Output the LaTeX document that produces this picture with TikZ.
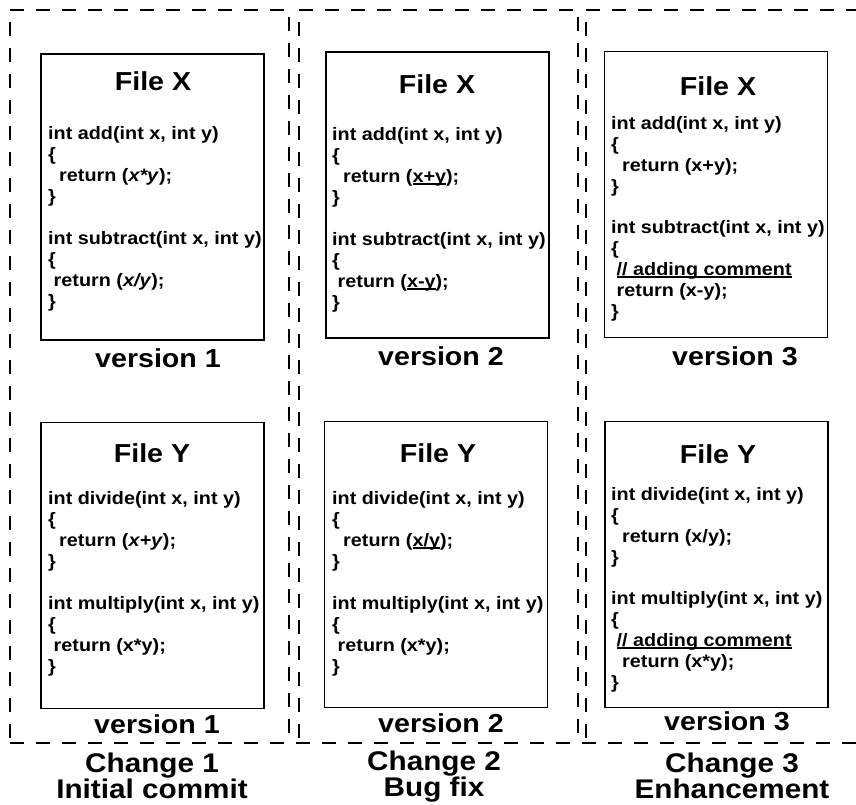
\documentclass[tikz,border=0pt]{standalone}
\usepackage{fontspec}
\setmainfont[FakeStretch=1.1]{Liberation Sans}
\newcommand\indt{\hspace*{5.5pt}}
\newcommand\chg[1]{\setbox0\hbox{#1}\rlap{\rule[-2.6pt]{\wd0}{1.7pt}}\box0}
\begin{document}
\begin{tikzpicture}[x=1pt,y=-1pt,
  frame/.style={draw,line width=1.4pt,dash pattern=on 14pt off 12pt},
  filebox/.style={draw,line width=1.3pt,minimum width=223pt,minimum height=286pt,inner sep=0pt},
  filename/.style={anchor=base,inner sep=0pt,font=\fontsize{26}{30}\selectfont\bfseries},
  code/.style={anchor=base west,align=left,inner sep=0pt,font=\fontsize{18}{21}\selectfont\bfseries},
  version/.style={anchor=base,inner sep=0pt,font=\fontsize{26}{30}\selectfont\bfseries},
  change/.style={anchor=base,align=center,inner sep=0pt,font=\fontsize{27}{26}\selectfont\bfseries}]
\useasboundingbox (0,0) rectangle (856,804);
% dashed frames, one per change
\draw[frame] (10,738) -- (10,10) -- (289,10) -- (289,738);
\draw[frame] (299,738) -- (299,10) -- (578,10) -- (578,738);
\draw[frame] (586,738) -- (586,10) -- (860,10);
\draw[frame] (10,743) -- (860,743);
% change 1 (code nodes sit on the baseline of their last line)
\node[filebox] (boxXa) at (152.5,197) {};
\node[filename] (nameXa) at (153,90) {File X};
\node[code] (codeXa) at (48,307) {int add(int x, int y)\\ \{\\ \indt\indt return (\textit{x*y});\\ \}\\[21pt]
  int subtract(int x, int y)\\ \{\\ \indt return (\textit{x/y});\\ \}};
\node[version] (verXa) at (158,367) {version 1};
\node[filebox] (boxYa) at (152.5,565.5) {};
\node[filename] (nameYa) at (152,462) {File Y};
\node[code] (codeYa) at (48,672) {int divide(int x, int y)\\ \{\\ \indt\indt return (\textit{x+y});\\ \}\\[21pt]
  int multiply(int x, int y)\\ \{\\ \indt return (x*y);\\ \}};
\node[version] (verYa) at (157,733) {version 1};
\node[change] (chga) at (152,798) {Change 1\\Initial commit};
% change 2
\node[filebox] (boxXb) at (437.5,195) {};
\node[filename] (nameXb) at (437,93) {File X};
\node[code] (codeXb) at (332,308) {int add(int x, int y)\\ \{\\ \indt\indt return (\chg{x+y});\\ \}\\[21pt]
  int subtract(int x, int y)\\ \{\\ \indt return (\chg{x-y});\\ \}};
\node[version] (verXb) at (441,365) {version 2};
\node[filebox] (boxYb) at (436,564.5) {};
\node[filename] (nameYb) at (438,462) {File Y};
\node[code] (codeYb) at (332,672) {int divide(int x, int y)\\ \{\\ \indt\indt return (\chg{x/y});\\ \}\\[21pt]
  int multiply(int x, int y)\\ \{\\ \indt return (x*y);\\ \}};
\node[version] (verYb) at (441,732) {version 2};
\node[change] (chgb) at (434,796) {Change 2\\Bug fix};
% change 3
\node[filebox] (boxXc) at (716,194.5) {};
\node[filename] (nameXc) at (718,95) {File X};
\node[code] (codeXc) at (611,317) {int add(int x, int y)\\ \{\\ \indt\indt return (x+y);\\ \}\\[20pt]
  int subtract(int x, int y)\\ \{\\ \indt\chg{// adding comment}\\ \indt return (x-y);\\ \}};
\node[version] (verXc) at (735,365) {version 3};
\node[filebox] (boxYc) at (716.5,564.5) {};
\node[filename] (nameYc) at (718,463) {File Y};
\node[code] (codeYc) at (611,688) {int divide(int x, int y)\\ \{\\ \indt\indt return (x/y);\\ \}\\[20pt]
  int multiply(int x, int y)\\ \{\\ \indt\chg{// adding comment}\\ \indt\indt return (x*y);\\ \}};
\node[version] (verYc) at (727,730) {version 3};
\node[change] (chgc) at (732,798) {Change 3\\Enhancement};
\end{tikzpicture}
\end{document}
